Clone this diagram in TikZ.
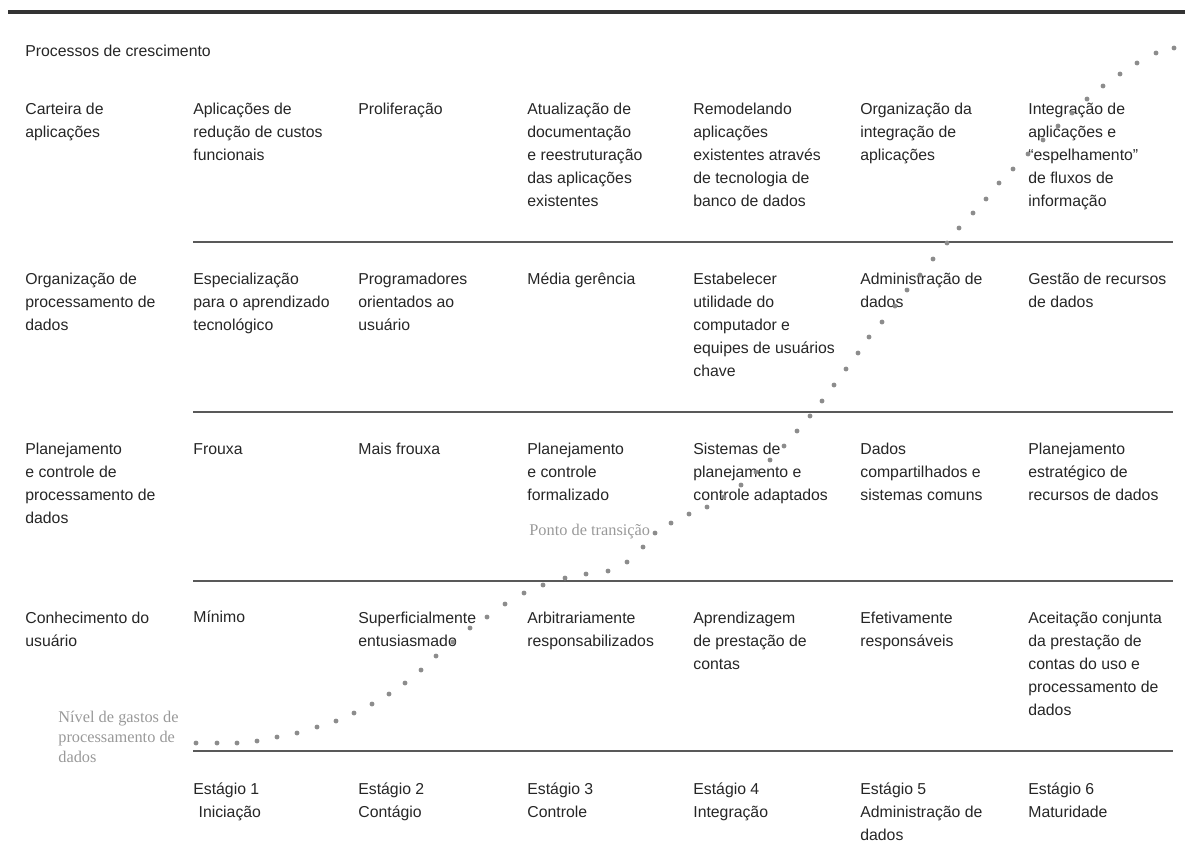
\documentclass[tikz,border=0pt]{standalone}
\usepackage{fontspec}
\setmainfont{Liberation Sans}
\newfontfamily\notefont{Liberation Serif}
\usepackage{tikz}
\tikzset{cell/.style={anchor=north west,inner sep=0pt,align=left,font=\fontsize{9}{13.1}\selectfont,text=black!85}}
\tikzset{note/.style={anchor=north west,inner sep=0pt,align=left,font=\notefont\fontsize{9.3}{11.4}\selectfont,text=black!40}}
\tikzset{rule/.style={line width=1.1pt,color=black!65}}
\definecolor{dotgray}{HTML}{8c8c8c}

\begin{document}
\begin{tikzpicture}[x=0.02cm,y=-0.02cm]
	\useasboundingbox (0,0) rectangle (1185,862);

	\draw [line width=2.3pt,color=black!80] (8,12) -- (1185,12);
	\foreach \y in {242,412,581,751} \draw [rule] (193,\y) -- (1173,\y);

	\node [cell] (titulo) at (25,45) {Processos de crescimento};

	\node [cell] (r1c0) at (25,103) {Carteira de\\aplicações};
	\node [cell] (r1c1) at (193,103) {Aplicações de\\redução de custos\\funcionais};
	\node [cell] (r1c2) at (358,103) {Proliferação};
	\node [cell] (r1c3) at (527,103) {Atualização de\\documentação\\e reestruturação\\das aplicações\\existentes};
	\node [cell] (r1c4) at (693,103) {Remodelando\\aplicações\\existentes através\\de tecnologia de\\banco de dados};
	\node [cell] (r1c5) at (860,103) {Organização da\\integração de\\aplicações};
	\node [cell] (r1c6) at (1028,103) {Integração de\\aplicações e\\“espelhamento”\\de fluxos de\\informação};

	\node [cell] (r2c0) at (25,273) {Organização de\\processamento de\\dados};
	\node [cell] (r2c1) at (193,273) {Especialização\\para o aprendizado\\tecnológico};
	\node [cell] (r2c2) at (358,273) {Programadores\\orientados ao\\usuário};
	\node [cell] (r2c3) at (527,272) {Média gerência};
	\node [cell] (r2c4) at (693,273) {Estabelecer\\utilidade do\\computador e\\equipes de usuários\\chave};
	\node [cell] (r2c5) at (860,273) {Administração de\\dados};
	\node [cell] (r2c6) at (1028,273) {Gestão de recursos\\de dados};

	\node [cell] (r3c0) at (25,443) {Planejamento\\e controle de\\processamento de\\dados};
	\node [cell] (r3c1) at (193,443) {Frouxa};
	\node [cell] (r3c2) at (358,443) {Mais frouxa};
	\node [cell] (r3c3) at (527,443) {Planejamento\\e controle\\formalizado};
	\node [cell] (r3c4) at (693,443) {Sistemas de\\planejamento e\\controle adaptados};
	\node [cell] (r3c5) at (860,443) {Dados\\compartilhados e\\sistemas comuns};
	\node [cell] (r3c6) at (1028,443) {Planejamento\\estratégico de\\recursos de dados};

	\node [cell] (r4c0) at (25,612) {Conhecimento do\\usuário};
	\node [cell] (r4c1) at (193,610) {Mínimo};
	\node [cell] (r4c2) at (358,612) {Superficialmente\\entusiasmado};
	\node [cell] (r4c3) at (527,612) {Arbitrariamente\\responsabilizados};
	\node [cell] (r4c4) at (693,612) {Aprendizagem\\de prestação de\\contas};
	\node [cell] (r4c5) at (860,612) {Efetivamente\\responsáveis};
	\node [cell] (r4c6) at (1028,612) {Aceitação conjunta\\da prestação de\\contas do uso e\\processamento de\\dados};

	\node [cell] (estagio1) at (193,782) {Estágio 1\\\hspace{3pt}Iniciação};
	\node [cell] (estagio2) at (358,782) {Estágio 2\\Contágio};
	\node [cell] (estagio3) at (527,782) {Estágio 3\\Controle};
	\node [cell] (estagio4) at (693,782) {Estágio 4\\Integração};
	\node [cell] (estagio5) at (860,782) {Estágio 5\\Administração de\\dados};
	\node [cell] (estagio6) at (1028,782) {Estágio 6\\Maturidade};

	\node [note] (transicao) at (529,524) {Ponto de transição};
	\node [note] (gastos) at (58,711) {Nível de gastos de\\processamento de\\dados};

	\foreach \x/\y in {196/743,217/743,237/743,257/741,277/737,297/733,317/727,336/721,354/713,372/704,389/694,405/683,421/670,436/656,453/642,470/628,487/617,505/604,524/593,543/585,565/578,586/574,608/571,627/562,643/547,655/533,671/523,689/514,707/507,724/497,741/485,756/472,770/460,784/446,797/431,810/416,822/401,834/385,846/369,858/353,869/337,882/322,895/306,907/290,920/275,933/259,947/243,959/228,973/213,986/199,999/183,1013/169,1028/154,1043/140,1058/126,1072/113,1087/99,1103/86,1120/74,1137/63,1156/53,1174/48}
		\fill [dotgray] (\x,\y) circle (1.4pt);
\end{tikzpicture}
\end{document}
